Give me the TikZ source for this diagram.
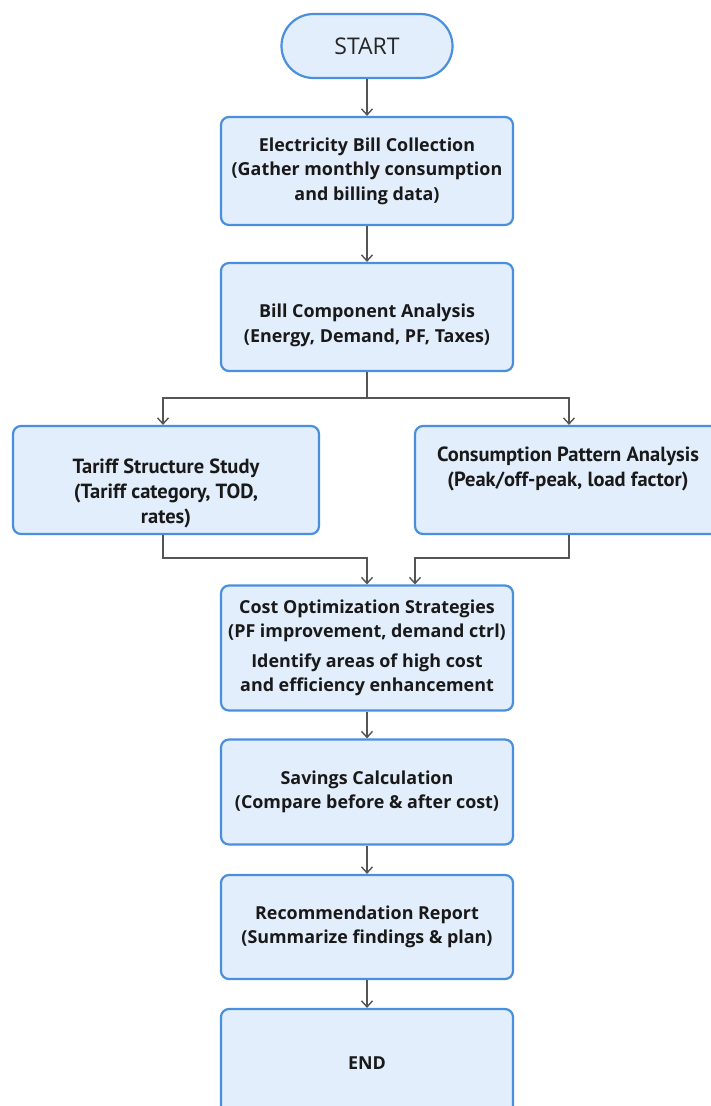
\documentclass[tikz,border=0pt]{standalone}
\usepackage{fontspec}
\setmainfont{Open Sans}
\newfontfamily\narrowfont{PT Sans}
\usetikzlibrary{arrows.meta}
\definecolor{boxblue}{HTML}{4A8FDD}
\definecolor{boxfill}{HTML}{E2EEFB}
\definecolor{linegray}{HTML}{555555}
\begin{document}
\begin{tikzpicture}[x=1pt, y=-1pt,
   stepbox/.style = {draw=boxblue, fill=boxfill, line width=2.2pt, rounded corners=8pt,
      minimum width=292pt, minimum height=108pt, align=center, inner sep=0pt,
      font=\fontsize{17.9}{24.5}\selectfont\bfseries, text=black!90},
   sidebox/.style = {stepbox, minimum width=306pt, font=\fontsize{20.5}{25}\selectfont\narrowfont\bfseries},
   pill/.style = {draw=boxblue, fill=boxfill, line width=2.2pt, rounded corners=32pt,
      minimum width=171pt, minimum height=64pt, font=\fontsize{23}{26}\selectfont, text=black!85},
   flow/.style = {draw=linegray, line width=1.4pt, -{Straight Barb[length=6pt, width=11pt]}},
   link/.style = {draw=linegray, line width=1.4pt}]
   \useasboundingbox (0,0) rectangle (710,1106);
   \fill[white] (0,0) rectangle (710,1106);
   % main column
   \node[pill] (start) at (367,46) {START};
   \node[stepbox] (collect) at (367,171) {Electricity Bill Collection\\(Gather monthly consumption\\and billing data)};
   \node[stepbox] (component) at (367,317) {~\\[6pt]Bill Component Analysis\\(Energy, Demand, PF, Taxes)};
   % two branches
   \node[sidebox] (tariff) at (166,480) {~\\[17pt]Tariff Structure Study\\(Tariff category, TOD,\\rates)};
   \node[sidebox] (pattern) at (568,480) {Consumption Pattern Analysis\\(Peak/off-peak, load factor)\\[2pt]~};
   \node[stepbox, minimum height=125pt] (optim) at (367,648) {Cost Optimization Strategies\\(PF improvement, demand ctrl)\\[5pt]Identify areas of high cost\\and efficiency enhancement};
   \node[stepbox, minimum height=105pt] (savings) at (367,792) {Savings Calculation\\(Compare before \& after cost)};
   \node[stepbox, minimum height=104pt] (report) at (367,927) {Recommendation Report\\(Summarize findings \& plan)};
   \node[stepbox, minimum height=108pt] (finish) at (367,1063) {END};
   % connectors
   \coordinate (split) at (367,398);
   \coordinate (joinl) at (163,558);
   \coordinate (joinr) at (569,558);
   \draw[flow] (start) -- (collect);
   \draw[flow] (collect) -- (component);
   \draw[link] (component) -- (split);
   \draw[flow] (split) -| (tariff.north -| joinl);
   \draw[flow] (split) -| (pattern.north -| joinr);
   \draw[flow] (tariff.south -| joinl) |- (joinl -| optim) -- (optim.north);
   \draw[flow] (pattern.south -| joinr) |- (joinr -| 415,0) -- (optim.north -| 415,0);
   \draw[flow] (optim) -- (savings);
   \draw[flow] (savings) -- (report);
   \draw[flow] (report) -- (finish);
\end{tikzpicture}
\end{document}
